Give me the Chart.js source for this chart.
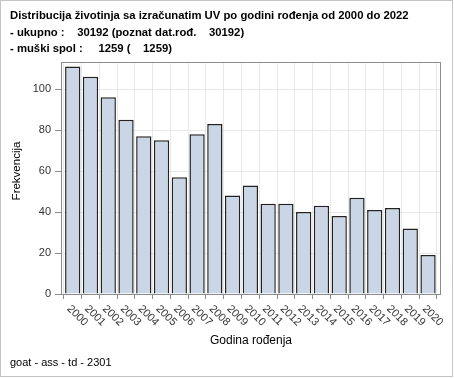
<!DOCTYPE html>
<html>
<head>
<meta charset="utf-8">
<script src="https://cdn.jsdelivr.net/npm/chart.js@4/dist/chart.umd.min.js"></script>
<style>
html,body{margin:0;padding:0;background:#fff;}
#wrap{width:454px;height:378px;position:relative;}
</style>
</head>
<body>
<div id="wrap"><canvas id="c" width="454" height="378"></canvas></div>
<script>
const categories = ['2000','2001','2002','2003','2004','2005','2006','2007','2008','2009','2010','2011','2012','2013','2014','2015','2016','2017','2018','2019','2020'];
const frequencies = [111,106,96,85,77,75,57,78,83,48,53,44,44,40,43,38,47,41,42,32,19];
const titleLines = [
  'Distribucija životinja sa izračunatim UV po godini rođenja od 2000 do 2022',
  '- ukupno :    30192 (poznat dat.rođ.    30192)',
  '- muški spol :     1259 (    1259)'
];
const xTitle = 'Godina rođenja';
const yTitle = 'Frekvencija';
const footnote = 'goat - ass - td - 2301';

const FONT = 'Arial, "Liberation Sans", sans-serif';

const decor = {
  id: 'decor',
  beforeDatasetsDraw(chart) {
    const {ctx, chartArea: a} = chart;
    ctx.save();
    ctx.strokeStyle = '#8c8c8c';
    ctx.lineWidth = 1;
    ctx.strokeRect(Math.round(a.left) + 0.5, Math.round(a.top) + 0.5, Math.round(a.right - a.left) - 1, Math.round(a.bottom - a.top));
    ctx.restore();
  },
  afterDraw(chart) {
    const {ctx, chartArea: a} = chart;
    const xs = chart.scales.x;
    ctx.save();
    ctx.fillStyle = '#333';
    ctx.font = '11px ' + FONT;
    ctx.textAlign = 'left';
    ctx.textBaseline = 'middle';
    categories.forEach((lab, i) => {
      const px = xs.getPixelForValue(i);
      ctx.save();
      ctx.translate(px - 4, a.bottom + 13);
      ctx.rotate(Math.PI / 4);
      ctx.fillText(lab, 0, 0);
      ctx.restore();
    });
    // y axis title
    ctx.save();
    ctx.fillStyle = '#000';
    ctx.font = '11.5px ' + FONT;
    ctx.textAlign = 'center';
    ctx.textBaseline = 'middle';
    ctx.translate(17, 171);
    ctx.rotate(-Math.PI / 2);
    ctx.fillText(yTitle, 0, 0);
    ctx.restore();
    ctx.fillStyle = '#000';
    ctx.font = '11px ' + FONT;
    ctx.textAlign = 'left';
    ctx.textBaseline = 'alphabetic';
    ctx.fillText(footnote, 10, 366);
    ctx.strokeStyle = '#c4c4c4';
    ctx.lineWidth = 1;
    ctx.strokeRect(0.5, 0.5, 452, 376);
    ctx.restore();
  }
};

new Chart(document.getElementById('c'), {
  type: 'bar',
  data: {
    datasets: [{
      data: frequencies.map((v, i) => ({x: i, y: v})),
      backgroundColor: '#cad5e5',
      borderColor: '#222',
      borderWidth: 1.5,
      barPercentage: 0.86,
      categoryPercentage: 1.0
    }]
  },
  options: {
    responsive: false,
    animation: false,
    devicePixelRatio: 1,
    layout: {padding: {left: 10, right: 13, top: 0, bottom: 26}},
    plugins: {
      legend: {display: false},
      tooltip: {enabled: false},
      title: {
        display: true,
        text: titleLines,
        align: 'start',
        color: '#000',
        font: {family: FONT, size: 11.3, weight: 'bold', lineHeight: 1.46},
        padding: {top: 7.75, bottom: 4.75}
      }
    },
    scales: {
      x: {
        type: 'linear',
        min: -0.66,
        max: 20.73,
        offset: false,
        afterFit(s) { s.height = 58; },
        ticks: {display: false, stepSize: 1, includeBounds: false},
        grid: {color: '#e8e8e8', tickColor: '#8c8c8c', tickLength: 5, drawTicks: true},
        border: {display: false},
        title: {display: true, text: xTitle, color: '#000', font: {family: FONT, size: 12}, padding: {top: 0, bottom: 4}}
      },
      y: {
        min: 0,
        max: 113.2,
        afterFit(s) { s.width = 51; },
        ticks: {stepSize: 20, includeBounds: false, color: '#333', font: {family: FONT, size: 11}, padding: 4},
        grid: {color: '#e8e8e8', tickColor: '#8c8c8c', tickLength: 6},
        border: {display: false},
        title: {display: false}
      }
    }
  },
  plugins: [decor]
});
</script>
</body>
</html>
